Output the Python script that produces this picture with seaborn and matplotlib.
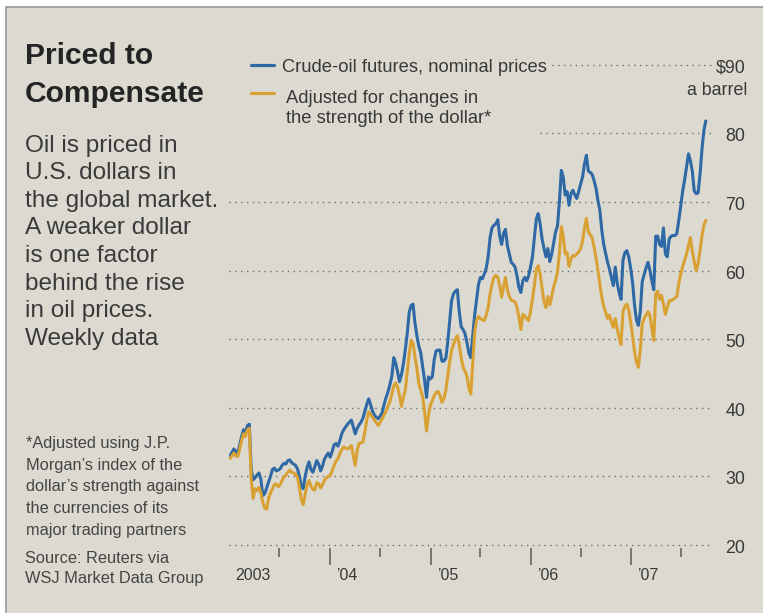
import matplotlib
matplotlib.use("Agg")
import matplotlib.pyplot as plt
import pandas as pd
import seaborn as sns
from matplotlib.lines import Line2D
from matplotlib.patches import Rectangle
from matplotlib.transforms import ScaledTranslation

# Weekly crude-oil futures, $ a barrel (Friday closes)
nominal_2003 = [33.0, 33.5, 34.0, 33.6, 33.4, 34.6, 35.8, 36.8, 36.4, 37.4, 37.6, 31.0, 29.5,
                29.8, 30.2, 30.5, 29.6, 27.2, 27.5, 28.3, 29.2, 30.0, 31.0, 31.2, 30.8, 30.9,
                31.1, 31.6, 31.9, 31.8, 32.3, 32.4, 32.0, 31.8, 31.6, 31.1, 30.0, 28.6, 28.2,
                30.0, 31.3, 32.1, 31.0, 30.6, 31.4, 32.3, 31.8, 30.8, 31.5, 32.5, 33.0, 33.4]
nominal_2004 = [32.8, 33.6, 34.6, 34.8, 34.4, 35.2, 36.2, 36.8, 37.2, 37.6, 37.9, 38.2, 37.2,
                36.2, 37.0, 37.5, 37.9, 38.5, 39.5, 40.5, 41.3, 40.4, 39.5, 38.9, 38.6, 38.4,
                38.8, 39.3, 40.5, 41.5, 42.3, 43.4, 44.6, 47.3, 46.5, 45.2, 43.8, 44.8, 46.4,
                48.5, 50.8, 53.9, 54.9, 55.1, 52.4, 50.5, 49.0, 48.0, 46.0, 44.0, 41.5, 44.5,
                44.2]
nominal_2005 = [44.5, 47.0, 48.3, 48.4, 48.4, 46.8, 46.8, 47.2, 49.5, 52.5, 55.6, 56.6, 57.0,
                57.2, 54.0, 51.8, 51.4, 50.8, 49.5, 48.0, 47.3, 50.5, 53.5, 55.8, 58.0, 59.0,
                58.8, 59.5, 60.3, 62.0, 64.8, 66.2, 66.6, 66.8, 67.4, 65.0, 63.8, 65.4, 66.0,
                63.6, 62.4, 61.2, 60.9, 60.5, 59.2, 57.5, 56.8, 58.5, 59.0, 58.5, 59.2, 60.5]
nominal_2006 = [62.0, 64.8, 67.5, 68.3, 66.8, 64.6, 63.2, 62.0, 63.2, 61.3, 62.4, 64.0, 65.6,
                66.5, 70.0, 74.6, 73.6, 71.0, 71.5, 69.5, 71.2, 71.7, 71.0, 70.5, 71.5, 72.6,
                73.6, 75.5, 76.8, 74.5, 74.3, 74.0, 73.1, 72.0, 70.2, 68.8, 65.9, 63.8, 62.5,
                61.2, 60.2, 59.0, 57.8, 60.5, 58.2, 56.8, 55.8, 61.5, 62.6, 62.9, 62.0, 60.3]
nominal_2007 = [58.2, 55.0, 52.8, 52.0, 54.0, 58.4, 59.4, 60.4, 61.2, 60.0, 58.5, 57.2, 65.0,
                65.0, 63.8, 63.5, 66.2, 62.4, 62.0, 64.6, 65.0, 65.1, 65.1, 65.4, 67.4, 69.4,
                71.6, 73.2, 75.1, 77.0, 76.0, 74.5, 71.6, 71.2, 71.3, 74.0, 77.6, 80.4, 81.8]

# Same weeks, adjusted for the strength of the dollar
adjusted_2003 = [32.6, 33.0, 33.4, 33.0, 32.9, 34.0, 35.2, 36.2, 35.8, 36.8, 37.0, 29.5, 26.8,
                 28.2, 27.9, 28.4, 27.6, 26.2, 25.4, 25.2, 26.8, 27.6, 28.2, 28.8, 28.9, 28.5,
                 28.8, 29.4, 29.9, 30.2, 30.6, 30.9, 30.6, 30.5, 30.3, 29.9, 28.4, 26.6, 25.9,
                 27.4, 28.8, 29.4, 28.6, 28.1, 28.0, 29.1, 28.9, 28.3, 28.8, 29.4, 29.8, 30.0]
adjusted_2004 = [30.1, 30.8, 31.6, 32.2, 32.6, 33.3, 33.9, 34.3, 34.1, 34.0, 34.2, 34.5, 33.0,
                 31.6, 33.8, 34.8, 34.9, 35.0, 36.5, 38.2, 39.4, 39.0, 38.6, 38.2, 37.8, 37.4,
                 37.9, 38.4, 39.0, 39.5, 40.2, 40.9, 42.0, 43.2, 43.6, 43.0, 41.8, 40.2, 41.5,
                 42.6, 45.2, 47.8, 49.8, 49.4, 47.4, 45.8, 43.5, 42.6, 41.6, 39.5, 36.6, 38.8,
                 40.4]
adjusted_2005 = [41.0, 41.8, 42.2, 42.4, 41.8, 40.8, 41.3, 42.5, 44.6, 46.6, 48.3, 49.2, 50.0,
                 50.5, 49.2, 47.3, 45.9, 45.3, 44.6, 42.8, 42.0, 46.5, 51.0, 52.8, 53.3, 53.0,
                 52.8, 52.7, 53.5, 54.6, 56.6, 58.0, 59.0, 59.3, 59.0, 57.8, 56.1, 57.6, 59.0,
                 57.2, 56.2, 55.7, 55.6, 55.4, 54.6, 53.2, 51.4, 53.6, 53.4, 53.0, 52.7, 54.0]
adjusted_2006 = [55.8, 57.8, 60.2, 60.7, 59.5, 57.4, 55.5, 54.6, 56.2, 55.0, 56.2, 57.6, 58.5,
                 59.8, 62.5, 66.4, 65.0, 62.4, 62.6, 60.6, 61.7, 62.2, 62.1, 62.4, 62.7, 63.2,
                 64.2, 66.2, 67.6, 65.7, 65.2, 64.8, 63.4, 61.9, 60.0, 58.2, 56.1, 54.8, 53.9,
                 53.0, 53.5, 52.5, 51.7, 53.0, 51.5, 50.2, 49.2, 54.0, 54.8, 55.1, 54.2, 52.5]
adjusted_2007 = [50.5, 48.2, 46.6, 45.9, 48.5, 52.2, 53.0, 53.5, 54.0, 53.5, 51.5, 49.8, 56.6,
                 57.0, 55.8, 56.4, 55.1, 53.6, 54.6, 55.6, 55.6, 55.8, 56.0, 56.2, 58.2, 59.5,
                 60.6, 61.5, 62.4, 63.6, 64.8, 62.8, 61.3, 60.0, 61.0, 62.9, 65.0, 66.6, 67.3]

year_starts = ["2003-01-01", "2004-01-01", "2005-01-01", "2006-01-01", "2007-01-01"]
year_labels = ["2003", "\u201904", "\u201905", "\u201906", "\u201907"]
mid_years = ["2003-07-01", "2004-07-01", "2005-07-01", "2006-07-01", "2007-07-01"]
price_ticks = [20, 30, 40, 50, 60, 70, 80, 90]
price_labels = ["20", "30", "40", "50", "60", "70", "80", "$90"]

W, H = 763, 613
BG = "#dcdad0"
BLUE = "#2f69a5"
GOLD = "#d9a134"
INK = "#383838"
GRID = "#6c6c6c"


def fx(px):
    return px / W


def fy(py):
    return 1 - py / H


sns.set_theme(style="white")
plt.rcParams["font.family"] = ["Liberation Sans", "DejaVu Sans"]

weeks = pd.date_range("2003-01-03", "2007-09-28", freq="W-FRI")
df = pd.DataFrame({
    "week": weeks,
    "nominal": nominal_2003 + nominal_2004 + nominal_2005 + nominal_2006 + nominal_2007,
    "adjusted": adjusted_2003 + adjusted_2004 + adjusted_2005 + adjusted_2006 + adjusted_2007,
})

fig = plt.figure(figsize=(W / 100, H / 100), dpi=100)
fig.patch.set_facecolor("white")
fig.add_artist(Rectangle((fx(6), -0.02), 1.05, fy(7) + 0.02, transform=fig.transFigure,
                         facecolor=BG, edgecolor="#9a9a9a", linewidth=1.2, zorder=-5))

ax = fig.add_axes([fx(229), fy(548), (713 - 229) / W, (548 - 61.3) / H])
ax.set_facecolor("none")

sns.lineplot(data=df, x="week", y="nominal", color=BLUE, linewidth=2.2, ax=ax, zorder=3)
sns.lineplot(data=df, x="week", y="adjusted", color=GOLD, linewidth=2.2, ax=ax, zorder=4)

start = pd.Timestamp("2003-01-01")
ax.set_xlim(start - pd.Timedelta(days=1.8), start + pd.Timedelta(days=1757.2))
ax.set_ylim(19.563, 90.49)
ax.set_xlabel("")
ax.set_ylabel("")
sns.despine(ax=ax, left=True, bottom=True, right=True, top=True)

# dotted gridlines; the top two stop short of the legend text
grid_start = {80: (540 - 229) / 484, 90: (552 - 229) / 484}
for v in price_ticks:
    ax.axhline(v, xmin=grid_start.get(v, 0), xmax=1, color=GRID, linewidth=1.0,
               linestyle=(0, (1, 3.2)), zorder=1)

# x axis: long ticks at year starts, short at mid-year
ax.set_xticks(pd.to_datetime(year_starts), labels=year_labels)
ax.set_xticks(pd.to_datetime(mid_years), minor=True)
ax.tick_params(axis="x", which="major", bottom=True, length=12.2, width=1.1, color="#5a5a5a",
               direction="out", pad=2.2, labelsize=11.5, labelcolor=INK)
ax.tick_params(axis="x", which="minor", bottom=True, length=6.5, width=1.1, color="#5a5a5a",
               direction="out")
ax.xaxis.get_major_ticks()[0].tick1line.set_visible(False)
xshift = ScaledTranslation(6 / 100, 0, fig.dpi_scale_trans)
for lab in ax.get_xticklabels():
    lab.set_horizontalalignment("left")
    lab.set_transform(lab.get_transform() + xshift)

# y axis on the right, labels right-aligned
ax.yaxis.tick_right()
ax.set_yticks(price_ticks, labels=price_labels)
ax.tick_params(axis="y", which="major", left=False, right=True, length=0, pad=23.4,
               labelsize=12.8, labelcolor=INK)
yshift = ScaledTranslation(0, -1.5 / 100, fig.dpi_scale_trans)
for lab in ax.get_yticklabels():
    lab.set_horizontalalignment("right")
    lab.set_transform(lab.get_transform() + yshift)
fig.text(fx(747), fy(95), "a barrel", ha="right", va="baseline", fontsize=12.8, color=INK)

# legend
fig.add_artist(Line2D([fx(251), fx(274)], [fy(65), fy(65)], transform=fig.transFigure,
                      color=BLUE, linewidth=2.3))
fig.add_artist(Line2D([fx(251), fx(274)], [fy(93), fy(93)], transform=fig.transFigure,
                      color=GOLD, linewidth=2.3))
fig.text(fx(281.6), fy(71.7), "Crude-oil futures, nominal prices", fontsize=13.2, color=INK,
         va="baseline")
fig.text(fx(285.8), fy(103.3), "Adjusted for changes in", fontsize=13.2, color=INK,
         va="baseline")
fig.text(fx(285.8), fy(123.3), "the strength of the dollar*", fontsize=13.2, color=INK,
         va="baseline")

# left-hand text panel
fig.text(fx(25), fy(64), "Priced to", fontsize=21.6, fontweight="bold", color="#242424",
         va="baseline")
fig.text(fx(25), fy(101.7), "Compensate", fontsize=21.6, fontweight="bold", color="#242424",
         va="baseline")

body_lines = ["Oil is priced in", "U.S. dollars in", "the global market.", "A weaker dollar",
              "is one factor", "behind the rise", "in oil prices.", "Weekly data"]
for k, line in enumerate(body_lines):
    fig.text(fx(25), fy(151.7 + 27.6 * k), line, fontsize=17.6, color="#3a3a3a",
             va="baseline")

note_lines = ["*Adjusted using J.P.", "Morgan\u2019s index of the",
              "dollar\u2019s strength against", "the currencies of its",
              "major trading partners"]
for k, line in enumerate(note_lines):
    fig.text(fx(26), fy(448 + 21.7 * k), line, fontsize=11.8, color="#444444", va="baseline")

source_lines = ["Source: Reuters via", "WSJ Market Data Group"]
for k, line in enumerate(source_lines):
    fig.text(fx(25), fy(563 + 20 * k), line, fontsize=11.8, color="#444444", va="baseline")

fig.savefig("out.png", dpi=100, facecolor=fig.get_facecolor())
plt.close(fig)
